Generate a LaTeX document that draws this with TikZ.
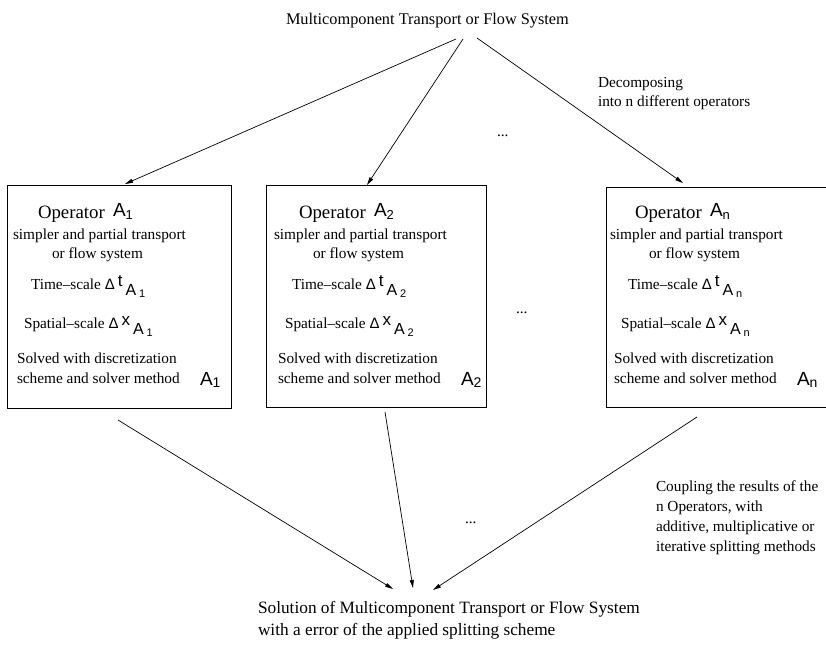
\documentclass[tikz,border=0pt]{standalone}
\usepackage{fontspec}
\setmainfont{Liberation Serif}
\newfontfamily\sff{Liberation Sans}
\usetikzlibrary{arrows.meta}
\newcommand\ScaleSym[2]{{\sff\fontsize{15}{15}\selectfont Δ\kern3pt\raisebox{3pt}{\fontsize{17}{17}\selectfont #1}\kern3pt\raisebox{-6pt}{\fontsize{16}{16}\selectfont A\kern3pt\raisebox{-2pt}{\fontsize{11}{11}\selectfont #2}}}}
\newcommand\OpContent[3]{%
  \begin{scope}[xshift=#1pt]
    \node[txt,font=\fontsize{18.8}{20}\selectfont] (op#2) at (38,218) {Operator};
    \node[txt] (opa#2) at (113,216) {{\sff\fontsize{19}{19}\selectfont A\raisebox{-3pt}{\fontsize{13}{13}\selectfont #3}}};
    \node[txt] (simp#2) at (13,239) {simpler and partial transport};
    \node[txt] (flow#2) at (52,258) {or flow system};
    \node[txt] (time#2) at (31,289) {Time–scale \ScaleSym{t}{#3}};
    \node[txt] (space#2) at (24,328) {Spatial–scale \ScaleSym{x}{#3}};
    \node[txt] (solv#2) at (17,363) {Solved with discretization};
    \node[txt] (sch#2) at (17,383) {scheme and solver method};
    \node[txt] (sa#2) at (200,385) {{\sff\fontsize{19}{19}\selectfont A\raisebox{-2pt}{\fontsize{14}{14}\selectfont #3}}};
  \end{scope}}
\begin{document}
\begin{tikzpicture}[x=1pt,y=-1pt,
  every node/.style={inner sep=0pt,outer sep=0pt},
  txt/.style={anchor=base west,font=\fontsize{15.3}{18}\selectfont},
  big/.style={anchor=base west,font=\fontsize{16.3}{20}\selectfont},
  bigger/.style={anchor=base west,font=\fontsize{17.3}{20}\selectfont},
  box/.style={draw,line width=0.8pt},
  conn/.style={-{Triangle[length=8pt,width=4pt]},line width=0.7pt}]
\useasboundingbox (0,0) rectangle (826,646);
% title
\node[big] (title) at (286,24) {Multicomponent Transport or Flow System};
% boxes
\node[box,minimum width=224pt,minimum height=223pt] (box1) at (119,296.5) {};
\node[box,minimum width=220pt,minimum height=222pt] (box2) at (376,296) {};
\node[box,minimum width=226pt,minimum height=220pt] (boxn) at (719,297) {};
\OpContent{0}{1}{1}
\OpContent{261}{2}{2}
\OpContent{597}{n}{n}
% decomposing
\node[txt] (dec1) at (598,87) {Decomposing};
\node[txt] (dec2) at (598,106) {into n different operators};
\node[txt] (dots1) at (497,136) {...};
\node[txt] (dots2) at (516,313) {...};
\node[txt] (dots3) at (465,523) {...};
% coupling
\node[txt] (c1) at (656,491) {Coupling the results of the};
\node[txt] (c2) at (656,511) {n Operators, with};
\node[txt] (c3) at (656,531) {additive, multiplicative or};
\node[txt] (c4) at (656,551) {iterative splitting methods};
% solution
\node[bigger] (sol1) at (258,613) {Solution of Multicomponent Transport or Flow System};
\node[bigger] (sol2) at (258,635) {with a error of the applied splitting scheme};
% connectors
\coordinate (t1) at (456,39);
\coordinate (t2) at (463,39);
\coordinate (t3) at (477,38);
\coordinate (e1) at (125,184);
\coordinate (e2) at (367,185);
\coordinate (e3) at (683,183);
\draw[conn] (t1) -- (e1);
\draw[conn] (t2) -- (e2);
\draw[conn] (t3) -- (e3);
\coordinate (b1) at (118,420);
\coordinate (b2) at (385,412);
\coordinate (b3) at (697,417);
\coordinate (f1) at (393,589);
\coordinate (f2) at (413,588);
\coordinate (f3) at (433,590);
\draw[conn] (b1) -- (f1);
\draw[conn] (b2) -- (f2);
\draw[conn] (b3) -- (f3);
\end{tikzpicture}
\end{document}
